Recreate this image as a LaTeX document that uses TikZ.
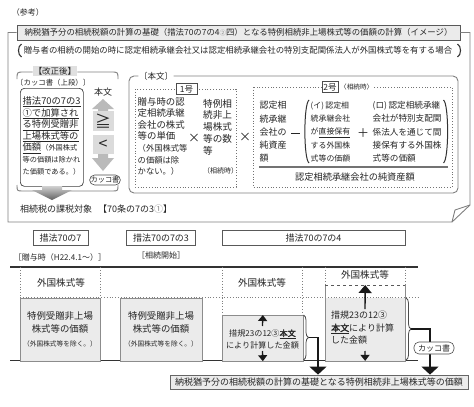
\documentclass[tikz,border=0pt]{standalone}
\usepackage{fontspec}
\setmainfont{Noto Sans CJK JP}[AutoFakeBold=2.5]
\usetikzlibrary{arrows.meta,decorations.pathreplacing}
\definecolor{txt}{HTML}{262626}
\definecolor{frm}{HTML}{808080}
\definecolor{bfill}{HTML}{EBEBEB}
\definecolor{bline}{HTML}{8C8C8C}
\newcommand{\fsz}[2]{\fontsize{#1}{#2}\selectfont}
\begin{document}
\begin{tikzpicture}[x=1pt,y=-1pt,
  every node/.style={text=txt},
  frameline/.style={draw=frm, line width=0.9pt},
  dotbox/.style={draw=black!55, dotted, line width=0.8pt},
  refbox/.style={draw=black!65, line width=0.6pt, fill=white, inner sep=0pt, minimum height=15pt, font=\fsz{9}{10}},
  graybox/.style={draw=bline, fill=bfill, line width=0.7pt, inner sep=0pt, anchor=north west},
  timeline/.style={draw=black!80, line width=1.1pt},
  vsep/.style={draw=black!50, dotted, line width=0.8pt},
  smallarr/.style={-{Triangle[width=9pt,length=6pt]}, line width=1.3pt, draw=black!90},
  bigarr/.style={-{Triangle[width=17pt,length=8pt]}, line width=1.4pt, draw=black!90},
  bracedec/.style={decorate, decoration={brace, amplitude=5pt}, draw=black!70, line width=0.8pt},
  pill/.style={draw=black!70, fill=white, rounded corners=5pt, inner sep=1pt, line width=0.6pt},
  gsym/.style={fill=black!14, inner sep=0pt, minimum width=21pt, font=\fsz{16}{16}},
  txtblock/.style={anchor=north west, inner sep=0pt, align=left},
]
\useasboundingbox (0,0) rectangle (474,407);
\fill[white] (0,0) rectangle (474,407);

% ---------- top part ----------
\node[font=\fsz{8}{9}] (sanko) at (28,12.5) {（参考）};

\node[draw=black!65, fill=black!8, line width=0.9pt, minimum width=443pt, minimum height=15pt, inner sep=0pt, font=\fsz{8.4}{10}] (title) at (238.5,32.5)
  {納税猶予分の相続税額の計算の基礎（措法70の7の4{\fsz{6.5}{8}\color{black!45}②}四）となる特例相続非上場株式等の価額の計算（イメージ）};

\draw[frameline] (title.west) -- (8,32.5) -- (8,222) -- (452,222) -- (470,205) -- (470,32.5) -- (title.east);
\draw[frameline] (452,222) -- (455,210) -- (470,205);

\node[font=\fsz{8.4}{10}] (cond) at (238,50.5) {贈与者の相続の開始の時に認定相続承継会社又は認定相続承継会社の特別支配関係法人が外国株式等を有する場合};
\draw[line width=1.1pt, draw=black!80] (21.5,44) .. controls (17.5,46) and (17.5,55) .. (21.5,57);
\draw[line width=1.1pt, draw=black!80] (457.5,44) .. controls (461.5,46) and (461.5,55) .. (457.5,57);

% 改正後 label with brace
\node[fill=black!12, inner sep=1pt, font=\fsz{8.5}{10}] (kaisei) at (55,71) {【改正後】};
\draw[frameline] (17,79) .. controls (17,72) .. (24,72) -- (kaisei.west |- 0,72);
\draw[frameline] (kaisei.east |- 0,72) -- (111,72) .. controls (118,72) .. (118,79);

\node[anchor=west, inner sep=0pt, font=\fsz{7.4}{9}] (kakkoup) at (16,83) {〔カッコ書（上段）〕};

% left box
\node[draw=black!75, line width=0.7pt, rounded corners=4pt, minimum width=63pt, minimum height=98pt, anchor=north west, inner sep=0pt] (lbox) at (20,88) {};
\node[txtblock, font=\fsz{9.3}{11.6}] (ltext) at (22.5,96.5)
  {\underline{措法70の7の3}\\\underline{①で加算され}\\\underline{る特例受贈非}\\\underline{上場株式等の}\\\underline{価額}{\fsz{7.2}{11.6}（外国株式}\\{\fsz{7.2}{11.6}等の価額は除かれ}\\{\fsz{7.2}{11.6}た価額である。）}};

% 本文 / >= / < column
\node[font=\fsz{9}{10}] (honbun) at (103,92) {本文};
\fill[black!27] (103,99) -- (114,109) -- (108,109) -- (108,111) -- (98,111) -- (98,109) -- (92,109) -- cycle;
\node[gsym, minimum height=20pt] (ge) at (103,121) {≧};
\node[gsym, minimum height=19pt] (lt) at (103,144.5) {<};
\fill[black!27] (98,154) -- (108,154) -- (108,158) -- (114,158) -- (103,171) -- (92,158) -- (98,158) -- cycle;
\node[pill, font=\fsz{7.2}{8}, minimum height=10pt] (kakko1) at (105,180) {カッコ書};

% brace and wide arrow under the left box
\draw[frameline] (17,185) .. controls (17,191) .. (23,191) -- (112,191) .. controls (118,191) .. (118,185);
\shade[top color=black!18, bottom color=black!62] (42,186) -- (62,186) -- (62,190) -- (72,190) -- (52,200) -- (32,190) -- (42,190) -- cycle;

\node[anchor=west, inner sep=0pt, font=\fsz{9}{10}] (kazei) at (20,209) {相続税の課税対象\hspace{6pt}【70条の7の3{\color{black!50}①}】};

% 本文 frame
\node[fill=white, inner sep=0.5pt, font=\fsz{8.5}{10}] (honlbl) at (156,76) {〔本文〕};
\draw[frameline, rounded corners=5pt] (honlbl.west) -- (129,76) -- (129,193) -- (458,193) -- (458,76) -- (honlbl.east);

% 1号
\draw[dotbox] (135,89) rectangle (236,187);
\node[draw=black!70, fill=white, line width=0.6pt, minimum width=21pt, minimum height=11pt, inner sep=0pt, font=\fsz{8.5}{10}] (g1) at (186.5,89) {1号};
\node[txtblock, font=\fsz{9.4}{11.6}] (c1) at (137.5,97)
  {贈与時の認\\定相続承継\\会社の株式\\等の単価\\{\fsz{8.3}{11.6}（外国株式等}\\{\fsz{8.3}{11.6}の価額は除}\\{\fsz{8.3}{11.6}かない。）}};
\node[font=\fsz{12}{12}] (x1) at (194,138) {×};
\node[txtblock, font=\fsz{9.6}{11.7}] (c2) at (203,99)
  {特例相\\続非上\\場株式\\等の数\\等\\[8pt]{\fsz{7}{11.7}（相続時）}};
\node[font=\fsz{12}{12}] (x2) at (245,137) {×};

% 2号
\draw[dotbox] (253,87) rectangle (452,187);
\node[draw=black!70, fill=white, line width=0.6pt, minimum width=16pt, minimum height=11pt, inner sep=0pt, font=\fsz{8.5}{10}] (g2) at (330,87) {2号};
\node[fill=white, inner sep=0.5pt, anchor=west, font=\fsz{6.6}{8}] (soku) at (339.5,87) {〈相続時〉};

\node[txtblock, font=\fsz{9}{13.3}] (na) at (259.5,101) {認定相\\続承継\\会社の\\純資産\\額};
\draw[line width=0.9pt, draw=black!85] (291,133) -- (300,133);
\draw[line width=1pt, draw=black!80] (309,100) .. controls (303.5,104) and (303.5,159) .. (309,163);
\node[txtblock, font=\fsz{7.9}{13.3}] (ni) at (310.5,101.5) {(イ)\hspace{1.5pt}認定相\\続承継会社\\が\underline{直接保有}\\する外国株\\式等の価額};
\node[font=\fsz{12}{12}] (plus) at (363,133) {＋};
\node[txtblock, font=\fsz{8.6}{13.3}] (nro) at (372.5,101) {(ロ)\hspace{1.5pt}認定相続承継\\会社が特別支配関\\係法人を通じて間\\接保有する外国株\\式等の価額};
\draw[line width=1pt, draw=black!80] (443.5,100) .. controls (449,104) and (449,159) .. (443.5,163);
\draw[draw=black!55, line width=1.3pt] (259,167) -- (448,167);
\node[font=\fsz{9.2}{10}] (den) at (355,177.5) {認定相続承継会社の純資産額};

% ---------- lower part ----------
\node[refbox, minimum width=55pt] (s707) at (60.5,238) {措法70の7};
\node[font=\fsz{8}{9}] (zouyo) at (60,257) {［贈与時（H22.4.1〜）］};
\node[refbox, minimum width=69pt] (s7073) at (161,238) {措法70の7の3};
\node[refbox, minimum width=183pt] (s7074) at (313.5,238) {措法70の7の4};

\coordinate (dlend) at (161,376);
\draw[draw=black!60, double=white, double distance=1.3pt, line width=0.5pt] (s7073.south) -- (dlend);
\node[font=\fsz{8}{9}] (souzoku) at (161,255.5) {［相続開始］};

\draw[timeline] (10,267) -- (418,267);
\draw[timeline] (10,360.5) -- (418,360.5);

\draw[vsep] (20,267) -- (20,298);
\draw[vsep] (100,267) -- (100,298);
\draw[vsep] (222,267) -- (222,315);
\draw[vsep] (302.5,267) -- (302.5,315);
\draw[vsep] (325,267) -- (325,285);
\draw[vsep] (405,267) -- (405,285);
\draw[vsep] (20,297.5) -- (420,297.5);

\node[font=\fsz{9.6}{10}] (fA) at (61,283) {外国株式等};
\node[font=\fsz{9.6}{10}] (fC) at (262,283) {外国株式等};
\node[font=\fsz{9.6}{10}] (fD) at (365,275) {外国株式等};

% boxes A and B
\node[graybox, minimum width=80pt, minimum height=62.5pt] (bA) at (20,298) {};
\node[align=center, inner sep=0pt, font=\fsz{9.4}{13}] (tA) at (60,329) {特例受贈非上場\\株式等の価額\\[1pt]{\fsz{6.7}{13}（外国株式等を除く。）}};
\node[graybox, minimum width=82pt, minimum height=62.5pt] (bB) at (120,298) {};
\node[align=center, inner sep=0pt, font=\fsz{9.4}{13}] (tB) at (161,329) {特例受贈非上場\\株式等の価額\\[1pt]{\fsz{6.7}{13}（外国株式等を除く。）}};

% box C
\node[graybox, minimum width=81pt, minimum height=45.5pt] (bC) at (222,315) {};
\node[align=center, inner sep=0pt, font=\fsz{8.1}{12.5}] (tC) at (262.5,339.5) {措規23の12③\textbf{\underline{本文}}\\により計算した金額};
\coordinate (cu) at (262.5,326);
\coordinate (cd) at (262.5,351);
\draw[smallarr] (cu) -- (bC.north);
\draw[smallarr] (cd) -- (bC.south);
\draw[bracedec] (303.5,315) -- (303.5,360);

% box D
\node[inner sep=0pt, minimum width=80pt, minimum height=75.5pt, anchor=north west] (bD) at (325,285) {};
\fill[bfill] (325,298) rectangle (405,360.5);
\draw[draw=bline, line width=0.7pt] (bD.north west) -- (bD.south west) -- (bD.south east) -- (bD.north east);
\draw[draw=black!65, dashed, line width=0.7pt] (bD.north west) -- (bD.north east);
\node[txtblock, font=\fsz{9}{12.5}] (tD) at (331,311) {措規23の12③\\\textbf{\underline{本文}}により計算\\した金額};
\coordinate (du) at (365,309);
\coordinate (dd) at (365,351);
\draw[-{Triangle[width=13pt,length=8pt]}, line width=1.4pt, draw=black!90] (du) -- (bD.north);
\draw[smallarr] (dd) -- (bD.south);
\draw[bracedec] (406,298) -- (406,360);

% final box
\node[draw=black!60, fill=bfill, line width=0.8pt, minimum width=298pt, minimum height=14pt, inner sep=0pt, font=\fsz{9}{10}] (final) at (319,382) {納税猶予分の相続税額の計算の基礎となる特例相続非上場株式等の価額};

% connectors from the braces
\coordinate (bCtip) at (308.5,337.5);
\coordinate (cx) at (318,337.5);
\draw[bigarr] (bCtip) -- (cx) -- (final.north -| cx);
\coordinate (bDtip) at (411,329);
\coordinate (dx) at (430,329);
\draw[bigarr] (bDtip) -- (dx) -- (final.north -| dx);
\node[pill, font=\fsz{8}{9}, minimum width=40pt, minimum height=12pt] (kakko2) at (434,348) {カッコ書};
\end{tikzpicture}
\end{document}
